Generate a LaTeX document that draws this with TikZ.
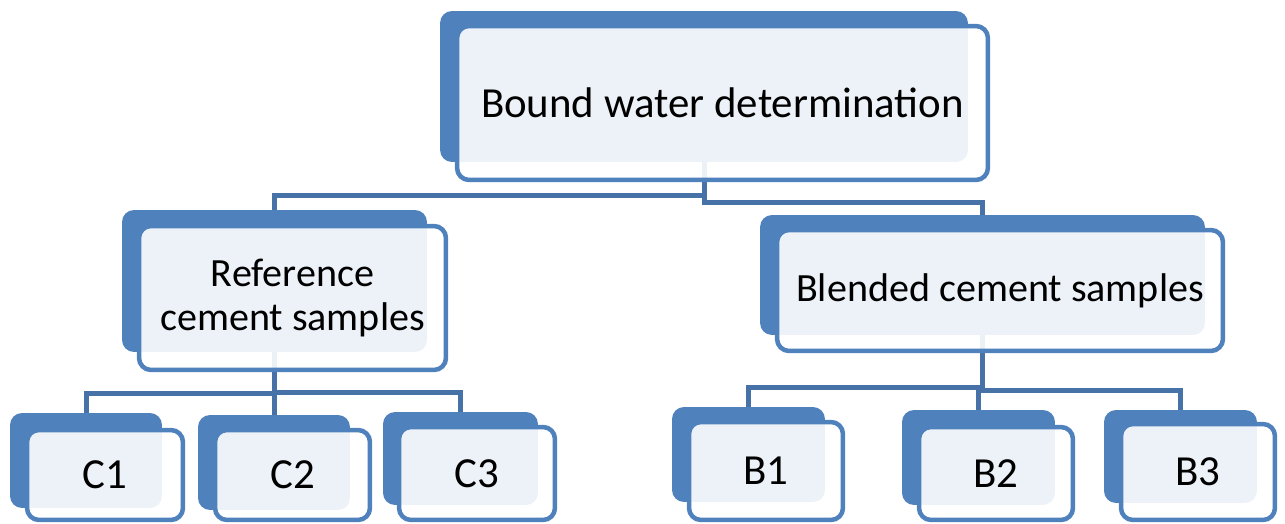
\documentclass[tikz,border=0pt]{standalone}
\usepackage{fontspec}
\setmainfont{Carlito}
\definecolor{boxblue}{HTML}{4F81BD}
\definecolor{linkblue}{HTML}{4672A8}
\tikzset{
  back/.style={rectangle, rounded corners=0.24cm, fill=boxblue, inner sep=0pt},
  front/.style={rectangle, rounded corners=0.24cm, draw=boxblue, line width=0.09cm,
    fill=white, fill opacity=0.9, text opacity=1, inner sep=0pt, align=center,
    font=\fontsize{24.4}{28}\selectfont},
  mid/.style={font=\fontsize{22.8}{25.6}\selectfont},
  link/.style={draw=linkblue, line width=0.1cm}
}

\begin{document}
\begin{tikzpicture}[x=0.02cm, y=-0.02cm]
\useasboundingbox (0,0) rectangle (1285,524);

% back plates
\node[back, minimum width=10.56cm, minimum height=3.02cm] (topB) at (704,86.5) {};
\node[back, minimum width=6.1cm, minimum height=2.84cm] (refB) at (274.5,281) {};
\node[back, minimum width=8.9cm, minimum height=2.4cm] (blnB) at (982.5,275) {};
\node[back, minimum width=3.04cm, minimum height=1.9cm] (c1B) at (86,460.5) {};
\node[back, minimum width=3.04cm, minimum height=1.9cm] (c2B) at (274,462.5) {};
\node[back, minimum width=3.1cm, minimum height=1.86cm] (c3B) at (460.5,458.5) {};
\node[back, minimum width=3.06cm, minimum height=1.9cm] (b1B) at (748.5,454.5) {};
\node[back, minimum width=3.06cm, minimum height=1.9cm] (b2B) at (978.5,457.5) {};
\node[back, minimum width=3.06cm, minimum height=1.86cm] (b3B) at (1180.5,456.5) {};

% connectors
\draw[link] (refB.north) -- ++(0,-14) -| (topB.south);
\draw[link] (blnB.north) -- ++(0,-12) -| (topB.south);
\foreach \k in {c1B,c2B,c3B}
  \draw[link] (\k.north) -- ++(0,-19) -| (refB.south);
\foreach \k in {b1B,b2B,b3B}
  \draw[link] (\k.north) -- ++(0,-19) -| (blnB.south);

% front boxes
\node[front, minimum width=10.62cm, minimum height=3.08cm] (topF) at (722.5,103) {Bound water determination};
\node[front, mid, minimum width=6.14cm, minimum height=2.88cm] (refF) at (292.5,298) {Reference\\cement samples};
\node[front, mid, minimum width=8.92cm, minimum height=2.42cm] (blnF) at (1000,290.5) {Blended cement samples};
\node[front, minimum width=3.12cm, minimum height=1.8cm] (c1F) at (105,475) {C1};
\node[front, minimum width=3.1cm, minimum height=1.8cm] (c2F) at (292.5,475) {C2};
\node[front, minimum width=3.12cm, minimum height=1.86cm] (c3F) at (477,473.5) {C3};
\node[front, minimum width=3.08cm, minimum height=1.96cm] (b1F) at (766,471) {B1};
\node[front, minimum width=3.08cm, minimum height=1.86cm] (b2F) at (996,473.5) {B2};
\node[front, minimum width=3.08cm, minimum height=1.92cm] (b3F) at (1198,472) {B3};
\end{tikzpicture}
\end{document}
